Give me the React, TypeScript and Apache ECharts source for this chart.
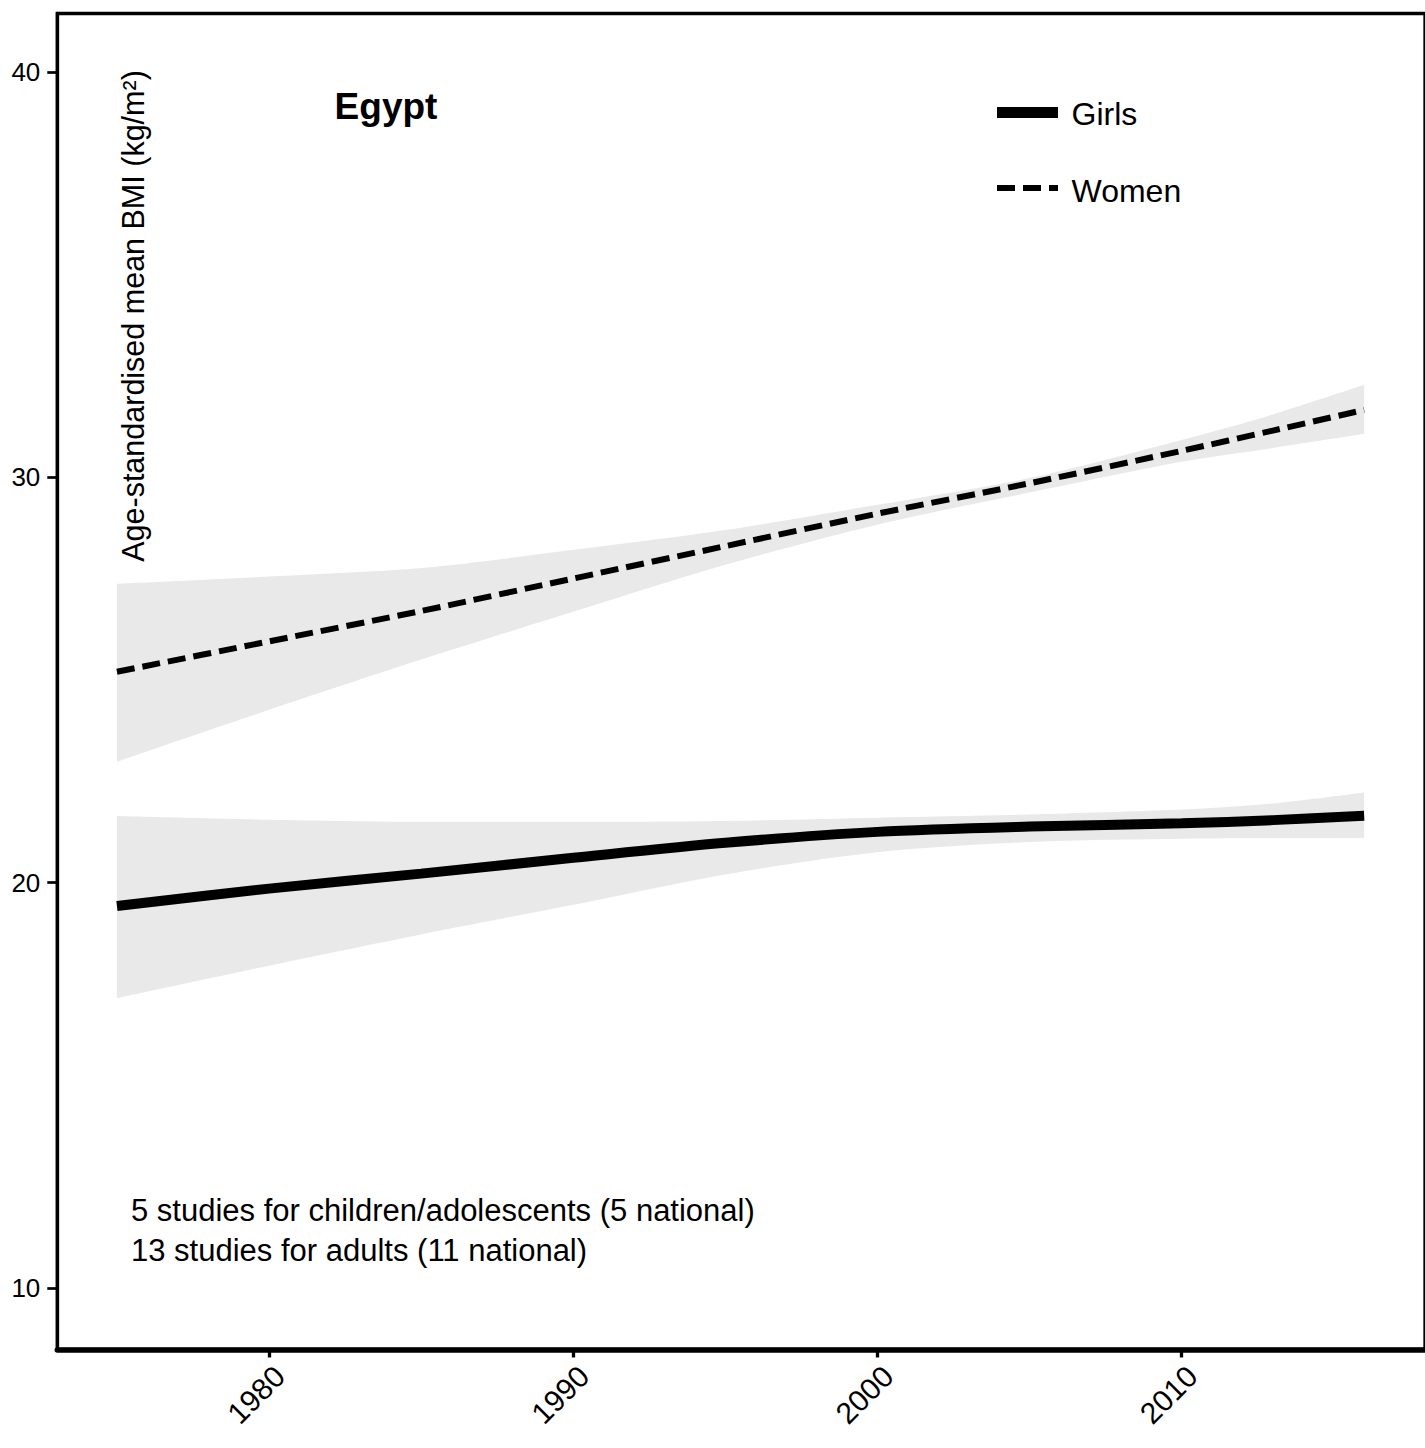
import React, { useEffect, useRef } from "react";
import * as echarts from "echarts";

const years = [1975, 1980, 1985, 1990, 1995, 2000, 2005, 2010, 2013, 2016];
const girlsMean = [19.42, 19.85, 20.22, 20.61, 20.98, 21.25, 21.38, 21.46, 21.54, 21.65];
const girlsLower = [17.15, 17.95, 18.72, 19.45, 20.2, 20.75, 21.0, 21.08, 21.09, 21.1];
const girlsUpper = [21.64, 21.55, 21.5, 21.5, 21.52, 21.6, 21.68, 21.8, 21.95, 22.22];
const womenMean = [25.2, 25.95, 26.7, 27.5, 28.3, 29.1, 29.85, 30.65, 31.15, 31.66];
const womenLower = [22.98, 24.26, 25.5, 26.68, 27.84, 28.83, 29.62, 30.38, 30.72, 31.07];
const womenUpper = [27.37, 27.55, 27.76, 28.21, 28.7, 29.32, 29.98, 30.92, 31.55, 32.28];

const xTicks = [1980, 1990, 2000, 2010];
const yTicks = [10, 20, 30, 40];

const titleText = "Egypt";
const yTitle = "Age-standardised mean BMI (kg/m²)";
const legendNames = ["Girls", "Women"];
const notes = [
  "5 studies for children/adolescents (5 national)",
  "13 studies for adults (11 national)",
];

const FONT = "'Liberation Sans', Arial, Helvetica, sans-serif";
const RIBBON = "#e9e9e9";

export default function App() {
  const ref = useRef<HTMLDivElement>(null);
  useEffect(() => {
    if (!ref.current) return;
    const chart = echarts.init(ref.current, null, { renderer: "svg" });
    const pts = (vals: number[]) => years.map((y, i) => [y, vals[i]]);
    // value first, year second, so that the stack is applied to the y values
    const ptsVY = (vals: number[]) => years.map((y, i) => [vals[i], y]);
    const diff = (a: number[], b: number[]) => a.map((v, i) => +(v - b[i]).toFixed(4));
    const smooth = 0.3;
    const ribbonBase = (stack: string, lo: number[]) => ({
      type: "line",
      stack,
      data: ptsVY(lo),
      encode: { x: 1, y: 0 },
      symbol: "none",
      smooth,
      silent: true,
      lineStyle: { opacity: 0, width: 0 },
      z: 1,
    });
    const ribbonBand = (stack: string, up: number[], lo: number[]) => ({
      type: "line",
      stack,
      data: ptsVY(diff(up, lo)),
      encode: { x: 1, y: 0 },
      symbol: "none",
      smooth,
      silent: true,
      lineStyle: { opacity: 0, width: 0 },
      areaStyle: { color: RIBBON, opacity: 1 },
      z: 1,
    });
    chart.setOption({
      animation: false,
      textStyle: { fontFamily: FONT },
      grid: {
        left: 57.3,
        right: -6,
        top: 13.5,
        bottom: 98.5,
        show: true,
        borderColor: "#000",
        borderWidth: 3.3,
        backgroundColor: "transparent",
      },
      xAxis: {
        type: "value",
        min: 1973.04,
        max: 2018,
        splitLine: { show: false },
        axisLine: { show: true, lineStyle: { color: "#000", width: 5.5 } },
        axisTick: { show: true, customValues: xTicks, length: 8, lineStyle: { color: "#000", width: 3.3 } },
        axisLabel: {
          customValues: xTicks,
          formatter: (v: number) => String(v),
          rotate: 45,
          verticalAlign: "top",
          fontSize: 30,
          margin: 11,
          color: "#000",
          fontFamily: FONT,
        },
      },
      yAxis: {
        type: "value",
        min: 8.48,
        max: 41.44,
        splitLine: { show: false },
        axisLine: { show: true, lineStyle: { color: "#000", width: 3.3 } },
        axisTick: { show: true, customValues: yTicks, length: 10, lineStyle: { color: "#000", width: 2.7 } },
        axisLabel: {
          customValues: yTicks,
          fontSize: 26,
          margin: 17,
          color: "#000",
          fontFamily: FONT,
        },
      },
      series: [
        ribbonBase("w", womenLower),
        ribbonBand("w", womenUpper, womenLower),
        ribbonBase("g", girlsLower),
        ribbonBand("g", girlsUpper, girlsLower),
        {
          name: legendNames[0],
          type: "line",
          data: pts(girlsMean),
          symbol: "none",
          smooth,
          z: 3,
          lineStyle: { color: "#000", width: 10, cap: "butt" },
        },
        {
          name: legendNames[1],
          type: "line",
          data: pts(womenMean),
          symbol: "none",
          smooth,
          z: 3,
          lineStyle: { color: "#000", width: 6, type: [18, 8], cap: "butt" },
        },
      ],
      graphic: [
        {
          type: "text",
          x: 386,
          y: 106,
          z: 100,
          style: {
            text: titleText,
            fontSize: 37,
            fontWeight: "bold",
            fontFamily: FONT,
            fill: "#000",
            align: "center",
            verticalAlign: "middle",
          },
        },
        {
          type: "text",
          x: 133,
          y: 316,
          z: 100,
          rotation: Math.PI / 2,
          style: {
            text: yTitle,
            fontSize: 30.5,
            fontFamily: FONT,
            fill: "#000",
            align: "center",
            verticalAlign: "middle",
          },
        },
        {
          type: "line",
          z: 100,
          shape: { x1: 997, y1: 112.5, x2: 1058, y2: 112.5 },
          style: { stroke: "#000", lineWidth: 11 },
        },
        {
          type: "text",
          x: 1071.5,
          y: 113.5,
          z: 100,
          style: { text: legendNames[0], fontSize: 32, fontFamily: FONT, fill: "#000", align: "left", verticalAlign: "middle" },
        },
        {
          type: "line",
          z: 100,
          shape: { x1: 997, y1: 188, x2: 1058, y2: 188 },
          style: { stroke: "#000", lineWidth: 6, lineDash: [18, 8] },
        },
        {
          type: "text",
          x: 1071.5,
          y: 190.5,
          z: 100,
          style: { text: legendNames[1], fontSize: 32, fontFamily: FONT, fill: "#000", align: "left", verticalAlign: "middle" },
        },
        {
          type: "text",
          x: 131,
          y: 1210,
          z: 100,
          style: { text: notes[0], fontSize: 31, fontFamily: FONT, fill: "#000", align: "left", verticalAlign: "middle" },
        },
        {
          type: "text",
          x: 131,
          y: 1250,
          z: 100,
          style: { text: notes[1], fontSize: 31, fontFamily: FONT, fill: "#000", align: "left", verticalAlign: "middle" },
        },
      ],
    });
    return () => chart.dispose();
  }, []);
  return (
    <div
      ref={ref}
      style={{ position: "absolute", left: 0, top: 0, width: 1425, height: 1448, background: "#fff" }}
    />
  );
}
